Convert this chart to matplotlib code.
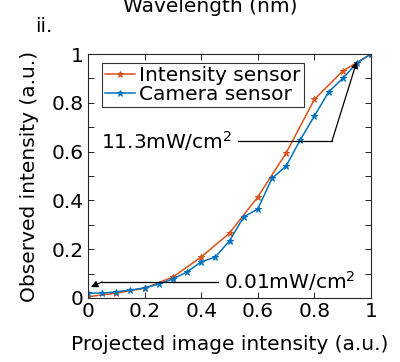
import numpy as np
import matplotlib
matplotlib.use('Agg')
import matplotlib.pyplot as plt

# projected image intensity (a.u.)
x_int = [0, 0.1, 0.2, 0.3, 0.4, 0.5, 0.6, 0.7, 0.8, 0.9, 1.0]
y_int = [0.005, 0.02, 0.04, 0.086, 0.168, 0.266, 0.414, 0.594, 0.814, 0.93, 1.0]

x_cam = [0, 0.05, 0.1, 0.15, 0.2, 0.25, 0.3, 0.35, 0.4, 0.45, 0.5,
         0.55, 0.6, 0.65, 0.7, 0.75, 0.8, 0.85, 0.9, 0.95, 1.0]
y_cam = [0.02, 0.02, 0.025, 0.033, 0.041, 0.057, 0.078, 0.107, 0.148, 0.168, 0.234,
         0.332, 0.365, 0.49, 0.541, 0.648, 0.746, 0.844, 0.90, 0.963, 1.0]

labels = ['Intensity sensor', 'Camera sensor']
orange = '#D95319'
blue = '#0072BD'
fs = 14.5

fig = plt.figure(figsize=(4.0, 3.62), dpi=100)
ax = fig.add_axes([0.22, 0.1768, 0.7075, 0.674])

ax.plot(x_int, y_int, '-*', color=orange, lw=1.1, ms=4.5, mew=0.7, label=labels[0])
ax.plot(x_cam, y_cam, '-*', color=blue, lw=1.1, ms=4.5, mew=0.7, label=labels[1])

ax.set_xlim(0, 1)
ax.set_ylim(0, 1)
ax.set_xticks([0, 0.2, 0.4, 0.6, 0.8, 1])
ax.set_xticklabels(['0', '0.2', '0.4', '0.6', '0.8', '1'])
yt = np.round(np.arange(0, 1.01, 0.1), 1)
ax.set_yticks(yt)
ax.set_yticklabels(['0', '', '0.2', '', '0.4', '', '0.6', '', '0.8', '', '1'])
ax.tick_params(direction='in', top=True, right=True, labelsize=fs, length=4, width=0.6, pad=3)
for s in ax.spines.values():
    s.set_linewidth(0.8)
    s.set_color('#262626')

ax.set_xlabel('Projected image intensity (a.u.)', fontsize=fs, labelpad=10)
ax.set_ylabel('Observed intensity (a.u.)', fontsize=fs, labelpad=9)

leg = ax.legend(loc='upper left', bbox_to_anchor=(0.05, 0.965), fontsize=fs,
                frameon=True, fancybox=False, edgecolor='black', handlelength=1.5,
                handletextpad=0.2, borderpad=0.15, labelspacing=0.0, borderaxespad=0)
leg.get_frame().set_linewidth(0.8)

# annotations
ax.text(0.045, 0.643, '11.3mW/cm$^2$', fontsize=fs, va='center', ha='left')
ax.plot([0.53, 0.862], [0.643, 0.643], color='black', lw=0.9)
ax.annotate('', xy=(0.95, 0.97), xytext=(0.862, 0.643),
            arrowprops=dict(arrowstyle='-|>', color='black', lw=0.9, mutation_scale=10,
                            shrinkA=0, shrinkB=0))

ax.text(0.48, 0.07, '0.01mW/cm$^2$', fontsize=fs, va='center', ha='left')
ax.plot([0.46, 0.05], [0.066, 0.066], color='black', lw=0.9)
ax.annotate('', xy=(0.01, 0.045), xytext=(0.05, 0.066),
            arrowprops=dict(arrowstyle='-|>', color='black', lw=0.9, mutation_scale=10,
                            shrinkA=0, shrinkB=0))

fig.text(0.0875, 0.928, 'ii.', fontsize=fs, ha='left', va='center')
fig.text(0.525, 0.982, 'Wavelength (nm)', fontsize=fs, ha='center', va='center')

fig.savefig('out.png', dpi=100)
